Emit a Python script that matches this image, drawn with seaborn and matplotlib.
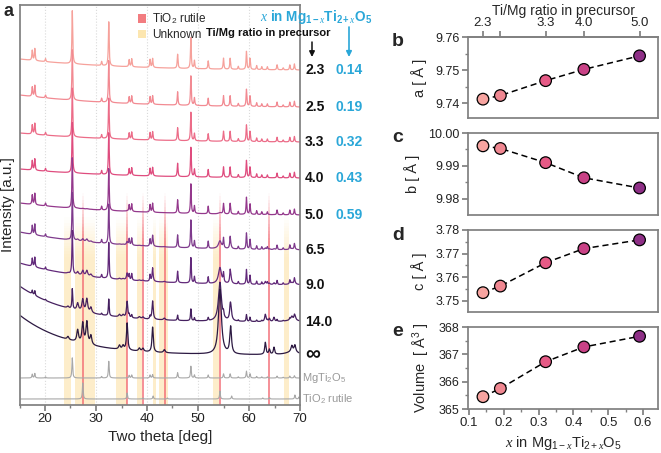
import numpy as np
import pandas as pd
import matplotlib.pyplot as plt
import seaborn as sns
from matplotlib.patches import Patch
from matplotlib.ticker import MultipleLocator

# DATA

# XRD patterns, labelled by Ti/Mg ratio in precursor
ratio_labels = ['2.3', '2.5', '3.3', '4.0', '5.0', '6.5', '9.0', '14.0', '∞']
x_labels = ['0.14', '0.19', '0.32', '0.43', '0.59']
pattern_colors = ['#F6A19B', '#F28A92', '#EC6C88', '#DF4C7E', '#94388C',
                  '#7E3A8C', '#62297A', '#45205F', '#2C1942']

# background level (a.u.) at 15 deg and 70 deg, and decay length
bg_left = [346, 310, 272, 236, 202, 173, 142, 119, 90]
bg_right = [335, 298, 263, 227, 190, 155, 120, 83, 50]
bg_tau = [20, 20, 20, 20, 20, 18, 15, 10, 10]

# phase content of each pattern
mg_scale = [1.0, 0.95, 0.92, 0.95, 0.95, 0.9, 0.82, 0.38, 0.0]
ex_scale = [0.0, 0.0, 0.0, 0.0, 0.02, 0.12, 0.25, 0.6, 1.0]

# MgTi2O5 peaks (position, height, half width)
mg_pos = [17.5, 18.0, 20.1, 25.35, 31.1, 32.5, 36.5, 37.0, 40.6, 41.1, 46.0, 48.6, 49.3,
          52.0, 55.0, 56.3, 57.9, 59.5, 60.2, 61.5, 62.5, 63.6, 65.5, 66.7, 68.0, 68.9]
mg_h = [10, 12, 3, 53, 4, 44, 7, 8, 8, 9, 14, 31, 8, 8, 11, 11, 3, 18, 11, 4, 3, 3, 5, 2, 5, 6]
mg_w = [0.09] * len(mg_pos)

# rutile + unknown peaks seen in the Ti-rich samples
ex_pos = [24.5, 26.4, 27.4, 28.2, 29.0, 34.6, 35.3, 36.1, 38.5, 39.2, 41.1, 43.4,
          54.3, 56.4, 63.2, 64.0, 64.9, 68.4, 69.0, 68.5]
ex_h = [3, 12, 20, 22, 9, 4, 4, 27, 3, 3, 25, 3, 65, 27, 12, 5, 7, 6, 7, 3]
ex_w = [0.2, 0.2, 0.2, 0.2, 0.2, 0.2, 0.2, 0.15, 0.2, 0.2, 0.15, 0.2,
        0.35, 0.2, 0.15, 0.15, 0.15, 0.2, 0.2, 1.5]

# reference patterns
rut_pos = [27.4, 36.1, 39.2, 41.2, 44.0, 54.3, 56.6, 62.7, 64.0, 69.0, 69.8]
rut_h = [16, 6, 1, 3, 1, 8, 3, 1, 1.5, 4, 2]
ref_base = [27, 6]
ref_names = ['MgTi$_2$O$_5$', 'TiO$_2$ rutile']

# highlighted regions
rutile_lines = [27.4, 36.1, 39.2, 43.6, 54.3, 64.0]
unknown_bands = [(23.7, 25.0), (25.9, 29.8), (33.9, 36.1), (38.0, 39.0),
                 (41.2, 41.8), (42.4, 44.2), (53.0, 54.2), (66.9, 67.8)]

# lattice parameters vs x
x_vals = [0.14, 0.19, 0.32, 0.43, 0.59]
a_vals = [9.7412, 9.7423, 9.7468, 9.7502, 9.7543]
b_vals = [9.9961, 9.9953, 9.9910, 9.9864, 9.9833]
c_vals = [3.7534, 3.7562, 3.7661, 3.7721, 3.7758]
vol_vals = [365.45, 365.75, 366.73, 367.27, 367.66]
top_ticks = ['2.3', '', '3.3', '4.0', '5.0']
point_colors = ['#F7A4A0', '#F08791', '#E65A86', '#C94286', '#8E2F86']

# STYLE

sns.set_theme(style='ticks')
plt.rcParams['font.family'] = ['Liberation Sans', 'DejaVu Sans']
plt.rcParams['mathtext.fontset'] = 'custom'
plt.rcParams['mathtext.rm'] = 'Liberation Sans'
plt.rcParams['mathtext.it'] = 'Liberation Serif:italic'
plt.rcParams['mathtext.bf'] = 'Liberation Sans:bold'
plt.rcParams['axes.edgecolor'] = '#808080'
plt.rcParams['xtick.color'] = '#808080'
plt.rcParams['ytick.color'] = '#808080'
plt.rcParams['xtick.labelcolor'] = '#222222'
plt.rcParams['ytick.labelcolor'] = '#222222'

W, H = 661, 453
BLUE = '#2AA7D8'


def fig_rect(left, top, right, bottom):
    return [left / W, 1 - bottom / H, (right - left) / W, (bottom - top) / H]


fig = plt.figure(figsize=(W / 100, H / 100), dpi=100)

# PANEL a

two_theta = np.arange(15, 70.001, 0.01)


def peaks(pos, h, w, scale):
    y = np.zeros_like(two_theta)
    for p, hh, ww in zip(pos, h, w):
        y += scale * hh / (1 + ((two_theta - p) / ww) ** 2)
    return y


def background(left, right, tau):
    e = np.exp(-(two_theta - 15) / tau)
    e70 = np.exp(-55 / tau)
    return right + (left - right) * (e - e70) / (1 - e70)


frames = []
for i, name in enumerate(ratio_labels):
    y = (background(bg_left[i], bg_right[i], bg_tau[i])
         + peaks(mg_pos, mg_h, mg_w, mg_scale[i])
         + peaks(ex_pos, ex_h, ex_w, ex_scale[i]))
    frames.append(pd.DataFrame({'two_theta': two_theta, 'intensity': y, 'sample': name}))
df = pd.concat(frames, ignore_index=True)

ref_frames = [
    pd.DataFrame({'two_theta': two_theta, 'sample': 'mg',
                  'intensity': ref_base[0] + peaks(mg_pos, mg_h, mg_w, 0.38)}),
    pd.DataFrame({'two_theta': two_theta, 'sample': 'rut',
                  'intensity': ref_base[1] + peaks(rut_pos, rut_h, [0.09] * len(rut_pos), 1.0)}),
]
df_ref = pd.concat(ref_frames, ignore_index=True)

ax = fig.add_axes(fig_rect(19.5, 5, 300, 405))


def faded_span(x0, x1, color, top, fade, alpha, n=14):
    ax.axvspan(x0, x1, 0, top - fade, color=color, alpha=alpha, lw=0, zorder=0)
    for k in range(n):
        lo = top - fade + fade * k / n
        ax.axvspan(x0, x1, lo, lo + fade / n, color=color,
                   alpha=alpha * (1 - (k + 0.5) / n), lw=0, zorder=0)


for lo, hi in unknown_bands:
    faded_span(lo, hi, '#FCDD96', 0.47, 0.1, 0.5)
for pos in rutile_lines:
    faded_span(pos - 0.2, pos + 0.2, '#F2646E', 0.53, 0.12, 0.7)

sns.lineplot(data=df_ref, x='two_theta', y='intensity', hue='sample',
             palette=['#A8A8A8', '#A8A8A8'], estimator=None, sort=False,
             lw=0.8, legend=False, ax=ax)
sns.lineplot(data=df, x='two_theta', y='intensity', hue='sample', hue_order=ratio_labels,
             palette=pattern_colors, estimator=None, sort=False,
             lw=0.9, legend=False, ax=ax)

ax.set_xlim(15, 70)
ax.set_ylim(0, 400)
ax.set_yticks([])
ax.xaxis.set_major_locator(MultipleLocator(10))
ax.xaxis.set_minor_locator(MultipleLocator(5))
ax.tick_params(axis='x', which='major', length=4, labelsize=9.5, pad=2)
ax.tick_params(axis='x', which='minor', length=2.5)
ax.grid(axis='x', color='#DADADA', ls=':', lw=0.8)
ax.set_axisbelow(True)
ax.set_xlabel('Two theta [deg]', fontsize=11, labelpad=3)
ax.set_ylabel('Intensity [a.u.]', fontsize=11, labelpad=3)

trans = ax.get_yaxis_transform()
for i, name in enumerate(ratio_labels):
    ax.text(1.018, bg_right[i], name, transform=trans, fontsize=10 if name != '∞' else 15,
            fontweight='bold', va='center', ha='left', color='#111111')
for i, name in enumerate(x_labels):
    ax.text(1.128, bg_right[i], name, transform=trans, fontsize=10,
            fontweight='bold', va='center', ha='left', color=BLUE)
for j, name in enumerate(ref_names):
    ax.text(1.007, ref_base[j], name, transform=trans, fontsize=8,
            va='center', ha='left', color='#999999')

ax.legend(handles=[Patch(fc='#F27C80', ec='none'), Patch(fc='#FCE6B0', ec='none')],
          labels=['TiO$_2$ rutile', 'Unknown'], loc='upper left',
          bbox_to_anchor=(0.385, 1.01), frameon=False, fontsize=8.5,
          handlelength=0.7, handleheight=0.7, handletextpad=0.5, labelspacing=0.25)

fig.text(316 / W, 1 - 17 / H,
         r'$\mathit{x}$ in Mg$_{\mathbf{1-}\mathit{x}}$Ti$_{\mathbf{2+}\mathit{x}}$O$_{\mathbf{5}}$',
         color=BLUE, fontsize=9.8, fontweight='bold', ha='center', va='center')
fig.text(268 / W, 1 - 33 / H, 'Ti/Mg ratio in precursor', color='#111111',
         fontsize=8, fontweight='bold', ha='center', va='center')
ax.annotate('', xy=(312 / W, 1 - 57 / H), xytext=(312 / W, 1 - 42 / H),
            xycoords='figure fraction', textcoords='figure fraction',
            arrowprops=dict(arrowstyle='-|>', color='#111111', lw=1.1, mutation_scale=8,
                            shrinkA=0, shrinkB=0))
ax.annotate('', xy=(349 / W, 1 - 57 / H), xytext=(349 / W, 1 - 27 / H),
            xycoords='figure fraction', textcoords='figure fraction',
            arrowprops=dict(arrowstyle='-|>', color=BLUE, lw=1.2, mutation_scale=8,
                            shrinkA=0, shrinkB=0))
fig.text(3 / W, 1 - 12 / H, 'a', fontsize=13, fontweight='bold', va='center')

# PANELS b-e

panels = [
    ('b', a_vals, 'a [ Å ]', (37, 118), (9.7355, 9.76), 0.01, 0.005, '{:.2f}'),
    ('c', b_vals, 'b [ Å ]', (133, 215), (9.9751, 10.0), 0.01, 0.005, '{:.2f}'),
    ('d', c_vals, 'c [ Å ]', (230, 312), (3.7452, 3.78), 0.01, 0.005, '{:.2f}'),
    ('e', vol_vals, 'Volume  [ Å$^3$ ]', (327, 409), (365, 368), 1, 0.5, '{:.0f}'),
]

for k, (letter, vals, ylabel, (top, bottom), ylim, major, minor, fmt) in enumerate(panels):
    pax = fig.add_axes(fig_rect(468, top, 658, bottom))
    pdf = pd.DataFrame({'x': x_vals, 'val': vals, 'ratio': x_labels})
    sns.lineplot(data=pdf, x='x', y='val', color='black', lw=1.1, ax=pax,
                 linestyle=(0, (4, 2.5)), estimator=None)
    sns.scatterplot(data=pdf, x='x', y='val', hue='ratio', palette=point_colors,
                    s=70, edgecolor='black', linewidth=0.9, legend=False, ax=pax, zorder=3)
    pax.set_xlim(0.097, 0.643)
    pax.set_ylim(*ylim)
    ticks = np.arange(ylim[1], ylim[0] - 1e-9, -major)
    pax.set_yticks(ticks)
    pax.set_yticklabels([fmt.format(t) for t in ticks])
    pax.yaxis.set_minor_locator(MultipleLocator(minor))
    pax.tick_params(axis='y', which='major', length=4, labelsize=9, pad=2)
    pax.tick_params(axis='y', which='minor', length=2.5)
    pax.set_ylabel(ylabel, fontsize=10.5, labelpad=6)
    pax.xaxis.set_major_locator(MultipleLocator(0.1))
    pax.xaxis.set_minor_locator(MultipleLocator(0.05))
    if letter == 'e':
        pax.tick_params(axis='x', which='major', length=4, labelsize=9.5, pad=2)
        pax.tick_params(axis='x', which='minor', length=2.5)
        pax.set_xlabel(r'$\mathit{x}$ in Mg$_{\mathrm{1-}\mathit{x}}$Ti$_{\mathrm{2+}\mathit{x}}$O$_{\mathrm{5}}$',
                       fontsize=10.5, labelpad=3)
    else:
        pax.tick_params(axis='x', which='both', length=0, labelbottom=False)
        pax.set_xlabel('')
    if letter == 'b':
        sec = pax.secondary_xaxis('top')
        sec.set_xticks(x_vals)
        sec.set_xticklabels(top_ticks)
        sec.tick_params(axis='x', length=4, labelsize=9.5, pad=1.5, color='#808080')
        sec.set_xlabel('Ti/Mg ratio in precursor', fontsize=10, labelpad=2)
    fig.text(392 / W, 1 - (top + 5) / H, letter, fontsize=14, fontweight='bold', va='center')

fig.savefig('out.png', dpi=100)
